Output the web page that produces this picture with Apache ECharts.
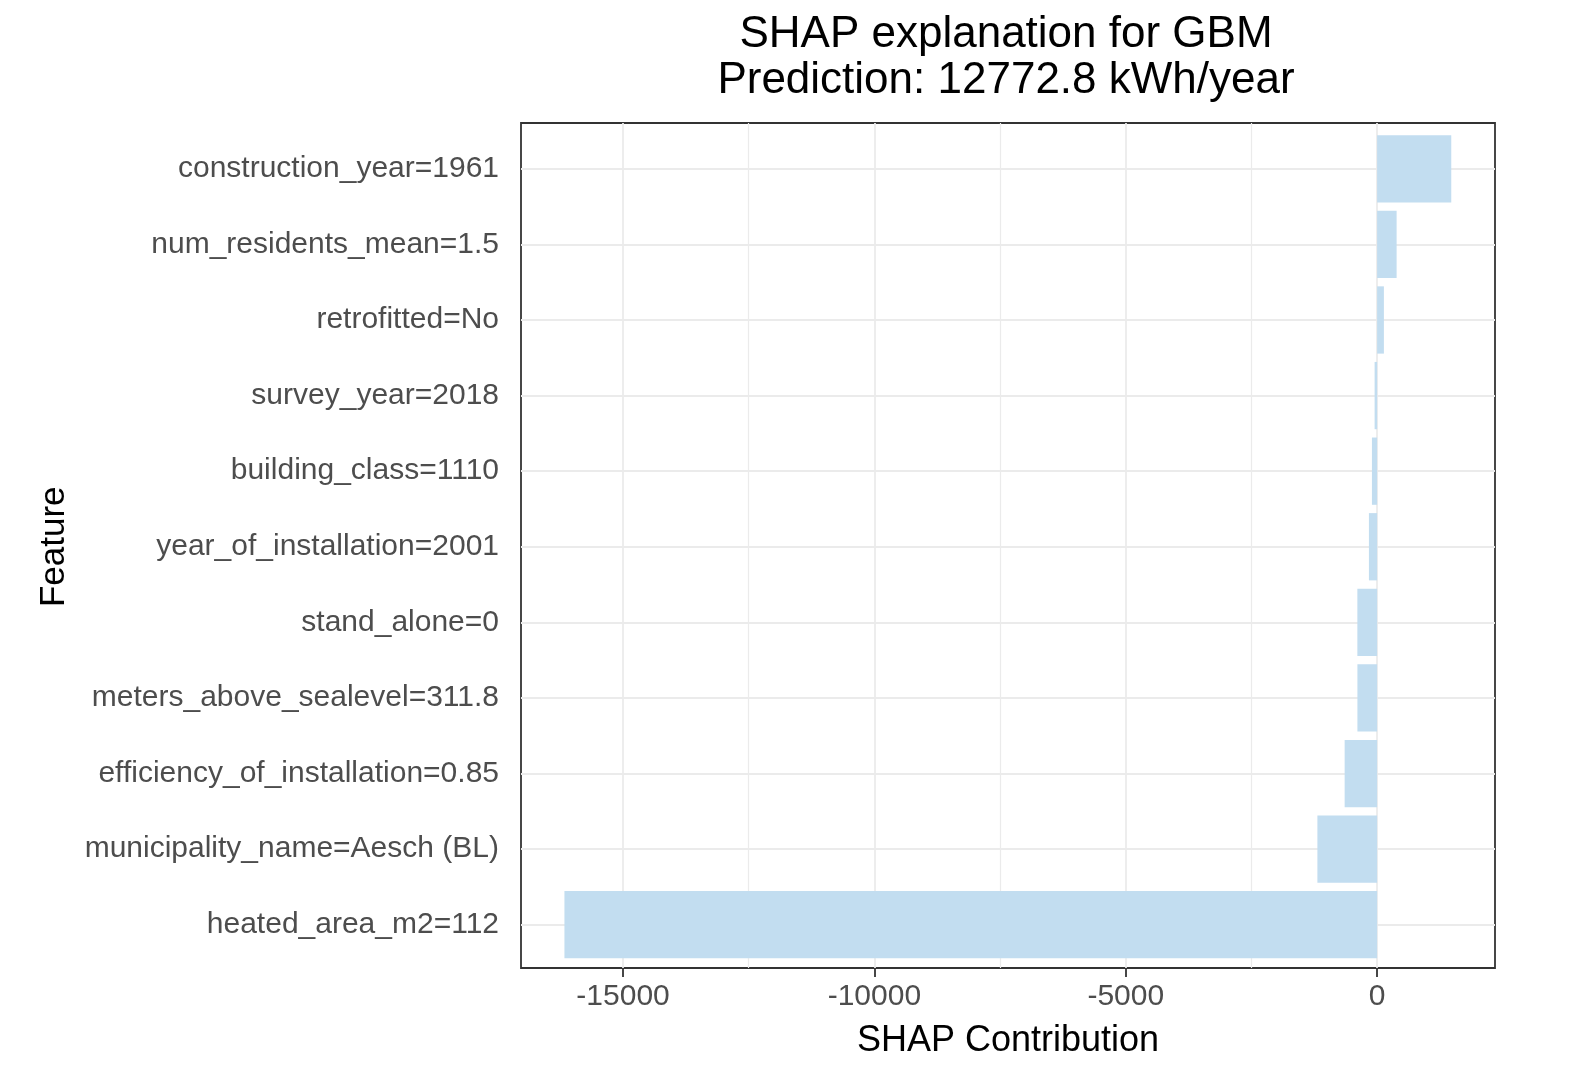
<!DOCTYPE html>
<html>
<head>
<meta charset="utf-8">
<script src="https://cdn.jsdelivr.net/npm/echarts@6/dist/echarts.min.js"></script>
<style>
html,body{margin:0;padding:0;background:#fff;}
#chart{width:1577px;height:1089px;}
</style>
</head>
<body>
<div id="chart"></div>
<script>
// Data (top to bottom)
const features = [
  'construction_year=1961',
  'num_residents_mean=1.5',
  'retrofitted=No',
  'survey_year=2018',
  'building_class=1110',
  'year_of_installation=2001',
  'stand_alone=0',
  'meters_above_sealevel=311.8',
  'efficiency_of_installation=0.85',
  'municipality_name=Aesch (BL)',
  'heated_area_m2=112'
];
const shapValues = [1475, 388, 135, -50, -103, -163, -393, -392, -646, -1188, -16166];
const majorTicks = [-15000, -10000, -5000, 0];
const minorTicks = [-12500, -7500, -2500];
const titleLines = ['SHAP explanation for GBM', 'Prediction: 12772.8 kWh/year'];
const xTitle = 'SHAP Contribution';
const yTitle = 'Feature';

const X_MIN = -17030, X_MAX = 2345;
const FONT = '"Liberation Sans", Arial, Helvetica, sans-serif';

const chart = echarts.init(document.getElementById('chart'), null, {renderer: 'canvas'});

const option = {
  backgroundColor: '#ffffff',
  animation: false,
  graphic: [
    {type: 'text', x: 1006, y: 35, z: 10,
     style: {text: titleLines[0], font: '44px ' + FONT, fill: '#000', textAlign: 'center', textVerticalAlign: 'middle'}},
    {type: 'text', x: 1006, y: 81, z: 10,
     style: {text: titleLines[1], font: '44px ' + FONT, fill: '#000', textAlign: 'center', textVerticalAlign: 'middle'}}
  ],
  grid: [
    {left: 521, right: 82, top: 123, bottom: 121, show: true, borderColor: '#333333', borderWidth: 1.8, backgroundColor: 'transparent', containLabel: false},
    {left: 521, right: 82, top: 131, bottom: 126.5, show: false, containLabel: false}
  ],
  xAxis: [
    {
      type: 'value', gridIndex: 0, min: X_MIN, max: X_MAX, position: 'bottom',
      axisLine: {show: false},
      axisTick: {show: true, customValues: majorTicks, length: 9, lineStyle: {color: '#333333', width: 1.8}},
      axisLabel: {show: true, customValues: majorTicks, margin: 14, color: '#4d4d4d', fontSize: 30, fontFamily: FONT,
                  formatter: v => String(v)},
      splitLine: {show: true, lineStyle: {color: '#ebebeb', width: 1.8}},
      name: xTitle, nameLocation: 'middle', nameGap: 55,
      nameTextStyle: {color: '#000', fontSize: 36, fontFamily: FONT}
    },
    {
      type: 'value', gridIndex: 0, min: X_MIN, max: X_MAX, position: 'bottom',
      axisLine: {show: false},
      axisTick: {show: false, customValues: minorTicks},
      axisLabel: {show: false},
      splitLine: {show: true, lineStyle: {color: '#ebebeb', width: 1.2}}
    },
    {
      type: 'value', gridIndex: 1, min: X_MIN, max: X_MAX, show: false,
      splitLine: {show: false}
    }
  ],
  yAxis: [
    {type: 'value', gridIndex: 0, show: false, splitLine: {show: false}},
    {
      type: 'category', gridIndex: 1, data: features, inverse: true,
      axisLine: {show: false},
      axisTick: {show: true, alignWithLabel: true, length: 9, lineStyle: {color: '#333333', width: 1.8}},
      axisLabel: {interval: 0, margin: 22, color: '#4d4d4d', fontSize: 30, fontFamily: FONT, padding: [5, 0, 0, 0]},
      splitLine: {show: false},
      name: yTitle, nameLocation: 'middle', nameRotate: 90, nameGap: 449,
      nameTextStyle: {color: '#000', fontSize: 35, fontFamily: FONT}
    }
  ],
  series: [
    {
      type: 'line', xAxisIndex: 2, yAxisIndex: 1, data: [], z: 1, silent: true,
      markLine: {
        silent: true, symbol: 'none', z: 1, animation: false,
        label: {show: false},
        lineStyle: {color: '#ebebeb', width: 1.8, type: 'solid'},
        data: features.map(f => ({yAxis: f}))
      }
    },
    {
      type: 'bar', xAxisIndex: 2, yAxisIndex: 1, data: shapValues, z: 3,
      barCategoryGap: '11%',
      itemStyle: {color: '#c2ddf0'},
      silent: true
    }
  ]
};
chart.setOption(option);
</script>
</body>
</html>
